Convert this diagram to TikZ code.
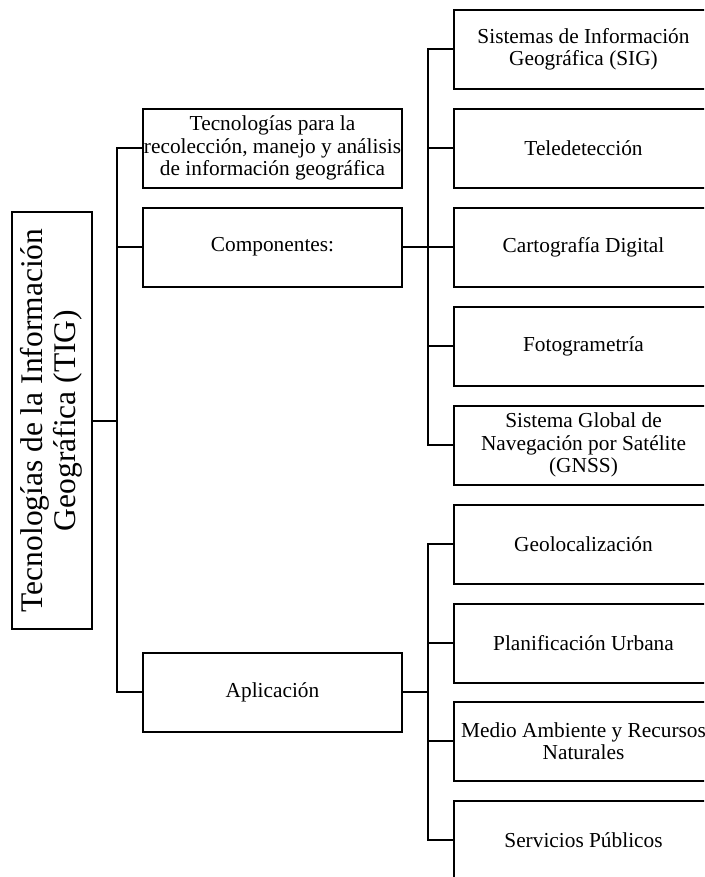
\documentclass[tikz,border=0pt]{standalone}
\usepackage{fontspec}
\setmainfont{Liberation Serif}
\usepackage{tikz}

\begin{document}
\begin{tikzpicture}[
    x=0.6pt, y=-0.6pt,
    root/.style={draw, rectangle, line width=1.2pt, rotate=90, minimum width=250.2pt, minimum height=48pt, align=center, inner sep=1pt, font=\fontsize{18.9}{20}\selectfont},
    branch/.style={draw, rectangle, line width=1.2pt, minimum width=155.4pt, minimum height=47.4pt, align=center, inner sep=1pt, font=\fontsize{12.8}{13.4}\selectfont},
    leaf/.style={branch},
    link/.style={line width=1.2pt}
]
\clip (0,0) rectangle (704,877);

% Root
\node[root] (tig) at (51.5,420.5) {Tecnologías de la Información\\Geográfica (TIG)};

% Second level
\node[branch] (tech) at (272.5,148) {Tecnologías para la\\\makebox[150pt]{recolección, manejo y análisis}\\de información geográfica};
\node[branch] (comp) at (272.5,247) {Componentes:};
\node[branch] (app) at (272.5,692) {Aplicación};

% Components
\node[leaf] (sig) at (583.5,49) {Sistemas de Información\\Geográfica (SIG)};
\node[leaf] (tele) at (583.5,148) {Teledetección};
\node[leaf] (carto) at (583.5,247) {Cartografía Digital};
\node[leaf] (foto) at (583.5,346) {Fotogrametría};
\node[leaf] (gnss) at (583.5,445) {Sistema Global de\\Navegación por Satélite\\(GNSS)};

% Applications
\node[leaf] (geo) at (583.5,544) {Geolocalización};
\node[leaf] (urb) at (583.5,643) {Planificación Urbana};
\node[leaf] (env) at (583.5,741) {Medio Ambiente y Recursos\\Naturales};
\node[leaf] (serv) at (583.5,840) {Servicios Públicos};

% Bus points
\coordinate (trunk) at (117,420.5);
\coordinate (busA) at (428,247);
\coordinate (busB) at (428,692);

% Connections
\draw[link] (tig.south) -- (trunk);
\draw[link] (tech.west) -| (trunk) |- (app.west);
\draw[link] (comp.west) -- (comp.west -| trunk);

\draw[link] (comp.east) -- (busA);
\draw[link] (sig.west) -| (busA) |- (gnss.west);
\draw[link] (tele.west) -- (tele.west -| busA);
\draw[link] (carto.west) -- (busA);
\draw[link] (foto.west) -- (foto.west -| busA);

\draw[link] (app.east) -- (busB);
\draw[link] (geo.west) -| (busB) |- (serv.west);
\draw[link] (urb.west) -- (urb.west -| busB);
\draw[link] (env.west) -- (env.west -| busB);

\end{tikzpicture}
\end{document}
